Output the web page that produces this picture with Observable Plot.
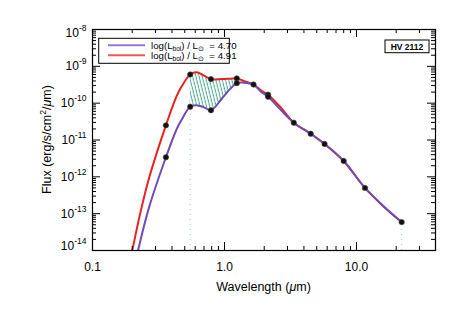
<!DOCTYPE html>
<html><head><meta charset="utf-8">
<script src="https://cdn.jsdelivr.net/npm/d3@7"></script>
<script src="https://cdn.jsdelivr.net/npm/@observablehq/plot@0.6"></script>
<style>
body{margin:0;background:#fff}
#chart svg{font-family:"Liberation Sans",Arial,Helvetica,sans-serif}
</style>
</head><body><div id="chart"></div>
<script>
// ---- data ----
const seriesLabels = ["4.70", "4.91"];
const seriesColors = ["#6f4db5", "#e8231f"];
const starName = "HV 2112";

// model wavelength grid (micron), shared by both model SEDs
const modelWave = [0.19, 0.2, 0.231, 0.27, 0.36, 0.433, 0.478, 0.55, 0.614, 0.7, 0.79, 0.95, 1.1, 1.24, 1.4, 1.66, 1.9, 2.14, 2.6, 3.35, 4.5, 5.73, 8.0, 11.6, 16, 22];
// model SED, log(Lbol/Lsun)=4.91 (red)
const redFlux = [4.4e-15, 1.0e-14, 1.1e-13, 1.0e-12, 2.5e-11, 1.53e-10, 3.0e-10, 6.0e-10, 6.9e-10, 5.6e-10, 4.5e-10, 4.5e-10, 4.6e-10, 4.7e-10, 4.0e-10, 3.2e-10, 2.2e-10, 1.7e-10, 8.5e-11, 2.95e-11, 1.48e-11, 7.8e-12, 2.7e-12, 5.0e-13, 1.6e-13, 5.9e-14];
// model SED, log(Lbol/Lsun)=4.70 (purple)
const blueFlux = [8.7e-16, 2.0e-15, 1.9e-14, 1.6e-13, 3.4e-12, 1.93e-11, 3.8e-11, 8.0e-11, 8.8e-11, 7.7e-11, 6.4e-11, 1.3e-10, 2.4e-10, 3.5e-10, 3.6e-10, 3.2e-10, 2.0e-10, 1.5e-10, 7.2e-11, 2.95e-11, 1.48e-11, 7.8e-12, 2.7e-12, 5.0e-13, 1.6e-13, 5.9e-14];

// photometry
const photWaveLow = [0.36, 0.55, 0.79, 1.24, 1.66, 2.14, 3.35, 4.5, 5.73, 8.0, 11.6, 22];
const photFluxLow = [3.4e-12, 8.0e-11, 6.4e-11, 3.5e-10, 3.2e-10, 1.5e-10, 2.95e-11, 1.48e-11, 7.8e-12, 2.7e-12, 5.0e-13, 5.9e-14];
const photWaveHigh = [0.36, 0.55, 0.79, 1.24, 2.14];
const photFluxHigh = [2.5e-11, 6.0e-10, 4.5e-10, 4.7e-10, 1.7e-10];

// hatched difference region (wavelength limits)
const hatchRange = [0.55, 1.24];
// faint dotted drop lines
const dropWave = [0.55, 22];

// axes
const xDomain = [0.1, 39.7];
const yDomain = [1e-14, 1e-8];
const xTickValues = [0.1, 1, 10];
const xTickLabels = ["0.1", "1.0", "10.0"];
const yTickExponents = [-8, -9, -10, -11, -12, -13, -14];

// ---- build tables ----
const redData = modelWave.map((w, i) => ({w, f: redFlux[i]}));
const blueData = modelWave.map((w, i) => ({w, f: blueFlux[i]}));
const hatchData = modelWave
  .map((w, i) => ({w, hi: redFlux[i], lo: blueFlux[i]}))
  .filter(d => d.w >= hatchRange[0] && d.w <= hatchRange[1]);
const photData = [
  ...photWaveHigh.map((w, i) => ({w, f: photFluxHigh[i]})),
  ...photWaveLow.map((w, i) => ({w, f: photFluxLow[i]}))
];
const dropData = dropWave.map(w => ({w, f: photFluxLow[photWaveLow.indexOf(w)]}));
const yTickValues = yTickExponents.map(e => Math.pow(10, e));

const xMinor = [];
for (let e = -1; e <= 1; e++) for (let k = 2; k <= 9; k++) { const v = k * Math.pow(10, e); if (v <= xDomain[1]) xMinor.push(v); }
const yMinor = [];
for (let e = -14; e <= -9; e++) for (let k = 2; k <= 9; k++) yMinor.push(k * Math.pow(10, e));

const W = 463, H = 309, mL = 92, mR = 28, mT = 29, mB = 59;
const iW = W - mL - mR, iH = H - mT - mB;
const majLen = 8, minLen = 4;

const plot = Plot.plot({
  width: W, height: H,
  marginLeft: mL, marginRight: mR, marginTop: mT, marginBottom: mB,
  style: {fontSize: "12px", fontFamily: '"Liberation Sans", Arial, sans-serif', background: "#fff", color: "#000"},
  x: {type: "log", domain: xDomain},
  y: {type: "log", domain: yDomain},
  marks: [
    Plot.areaY(hatchData, {x: "w", y1: "lo", y2: "hi", fill: "url(#hatch)", curve: "catmull-rom"}),
    Plot.ruleX(dropData, {x: "w", y1: yDomain[0], y2: "f", stroke: "#9ccfd0", strokeWidth: 1, strokeDasharray: "1,4"}),
    Plot.line(redData, {x: "w", y: "f", stroke: seriesColors[1], strokeWidth: 2, curve: "catmull-rom", clip: true}),
    Plot.line(blueData, {x: "w", y: "f", stroke: seriesColors[0], strokeWidth: 2, curve: "catmull-rom", clip: true}),
    Plot.dot(photData, {x: "w", y: "f", r: 2.7, fill: "#111", stroke: "#444", strokeWidth: 0.6}),
    // inward ticks (bottom / top / left / right)
    Plot.ruleX(xTickValues, {insetTop: iH - majLen, stroke: "#000"}),
    Plot.ruleX(xTickValues, {insetBottom: iH - majLen, stroke: "#000"}),
    Plot.ruleX(xMinor, {insetTop: iH - minLen, stroke: "#000"}),
    Plot.ruleX(xMinor, {insetBottom: iH - minLen, stroke: "#000"}),
    Plot.ruleY(yTickValues, {insetRight: iW - majLen, stroke: "#000"}),
    Plot.ruleY(yTickValues, {insetLeft: iW - majLen, stroke: "#000"}),
    Plot.ruleY(yMinor, {insetRight: iW - minLen, stroke: "#000"}),
    Plot.ruleY(yMinor, {insetLeft: iW - minLen, stroke: "#000"}),
    Plot.frame({stroke: "#000", strokeWidth: 1.2}),
    Plot.axisX({ticks: xTickValues, tickFormat: d => xTickLabels[xTickValues.indexOf(d)], tickSize: 0, tickPadding: 12, label: null}),
    Plot.axisY({ticks: yTickValues, tickFormat: d => "10^" + Math.round(Math.log10(d)), tickSize: 0, tickPadding: 6, label: null})
  ]
});

const svg = d3.select(plot);
// hatch pattern
const defs = svg.insert("defs", ":first-child");
defs.append("pattern").attr("id", "hatch").attr("patternUnits", "userSpaceOnUse")
  .attr("width", 3.1).attr("height", 10).attr("patternTransform", "rotate(-14)")
  .append("line").attr("x1", 1).attr("y1", -1).attr("x2", 1).attr("y2", 11)
  .attr("stroke", "#3a9f86").attr("stroke-width", 0.9);

// superscript exponents on y tick labels
svg.selectAll('g[aria-label="y-axis tick label"] text').each(function () {
  const t = d3.select(this);
  const s = t.text();
  const m = s.match(/^10\^(-?\d+)$/);
  if (!m) return;
  t.text("10");
  t.append("tspan").attr("dy", "-6").attr("font-size", "8.5px").text(m[1]);
  if (m[1] === "-8") t.attr("transform", (t.attr("transform") || "") + " translate(0,4)");
  if (m[1] === "-14") t.attr("transform", (t.attr("transform") || "") + " translate(0,-4)");
});

// axis titles
svg.append("text").attr("x", mL + iW / 2).attr("y", 290.5).attr("text-anchor", "middle")
  .attr("font-size", "12.5px").attr("fill", "#000")
  .call(t => { t.append("tspan").text("Wavelength ("); t.append("tspan").attr("font-style", "italic").text("\u03bc"); t.append("tspan").text("m)"); });
svg.append("text").attr("transform", `translate(51,${mT + iH / 2}) rotate(-90)`).attr("text-anchor", "middle")
  .attr("font-size", "12.5px").attr("fill", "#000")
  .call(t => {
    t.append("tspan").text("Flux (erg/s/cm");
    t.append("tspan").attr("dy", "-5").attr("font-size", "8.5px").text("2");
    t.append("tspan").attr("dy", "5").text("/");
    t.append("tspan").attr("font-style", "italic").text("\u03bc");
    t.append("tspan").text("m)");
  });

// legend box
const lg = svg.append("g").attr("text-anchor", "start");
lg.append("rect").attr("x", 98.7).attr("y", 38.3).attr("width", 130.6).attr("height", 25)
  .attr("fill", "#fff").attr("stroke", "#000").attr("stroke-width", 1);
seriesLabels.forEach((lab, i) => {
  const cy = 45.3 + i * 10;
  lg.append("line").attr("x1", 108).attr("x2", 145).attr("y1", cy).attr("y2", cy)
    .attr("stroke", seriesColors[i]).attr("stroke-width", 2).attr("stroke-opacity", 0.75);
  const t = lg.append("text").attr("x", 151).attr("y", cy + 3.4).attr("text-anchor", "start")
    .attr("font-size", "9.7px").attr("fill", "#000");
  t.append("tspan").text("log(L");
  t.append("tspan").attr("dy", "2").attr("font-size", "6.5px").text("bol");
  t.append("tspan").attr("dy", "-2").text(") / L");
  t.append("tspan").attr("dy", "2").attr("font-size", "6.5px").text("\u2299");
  t.append("tspan").attr("dy", "-2").text("\u00a0\u00a0= " + lab);
});

// star name box
const nb = svg.append("g");
nb.append("rect").attr("x", 385).attr("y", 40).attr("width", 44).attr("height", 12.7)
  .attr("fill", "#fff").attr("stroke", "#000").attr("stroke-width", 1);
nb.append("text").attr("x", 407).attr("y", 49.6).attr("text-anchor", "middle")
  .attr("font-size", "8.5px").attr("font-weight", "bold").attr("fill", "#000").text(starName);

document.getElementById("chart").appendChild(plot);
</script>
</body></html>
